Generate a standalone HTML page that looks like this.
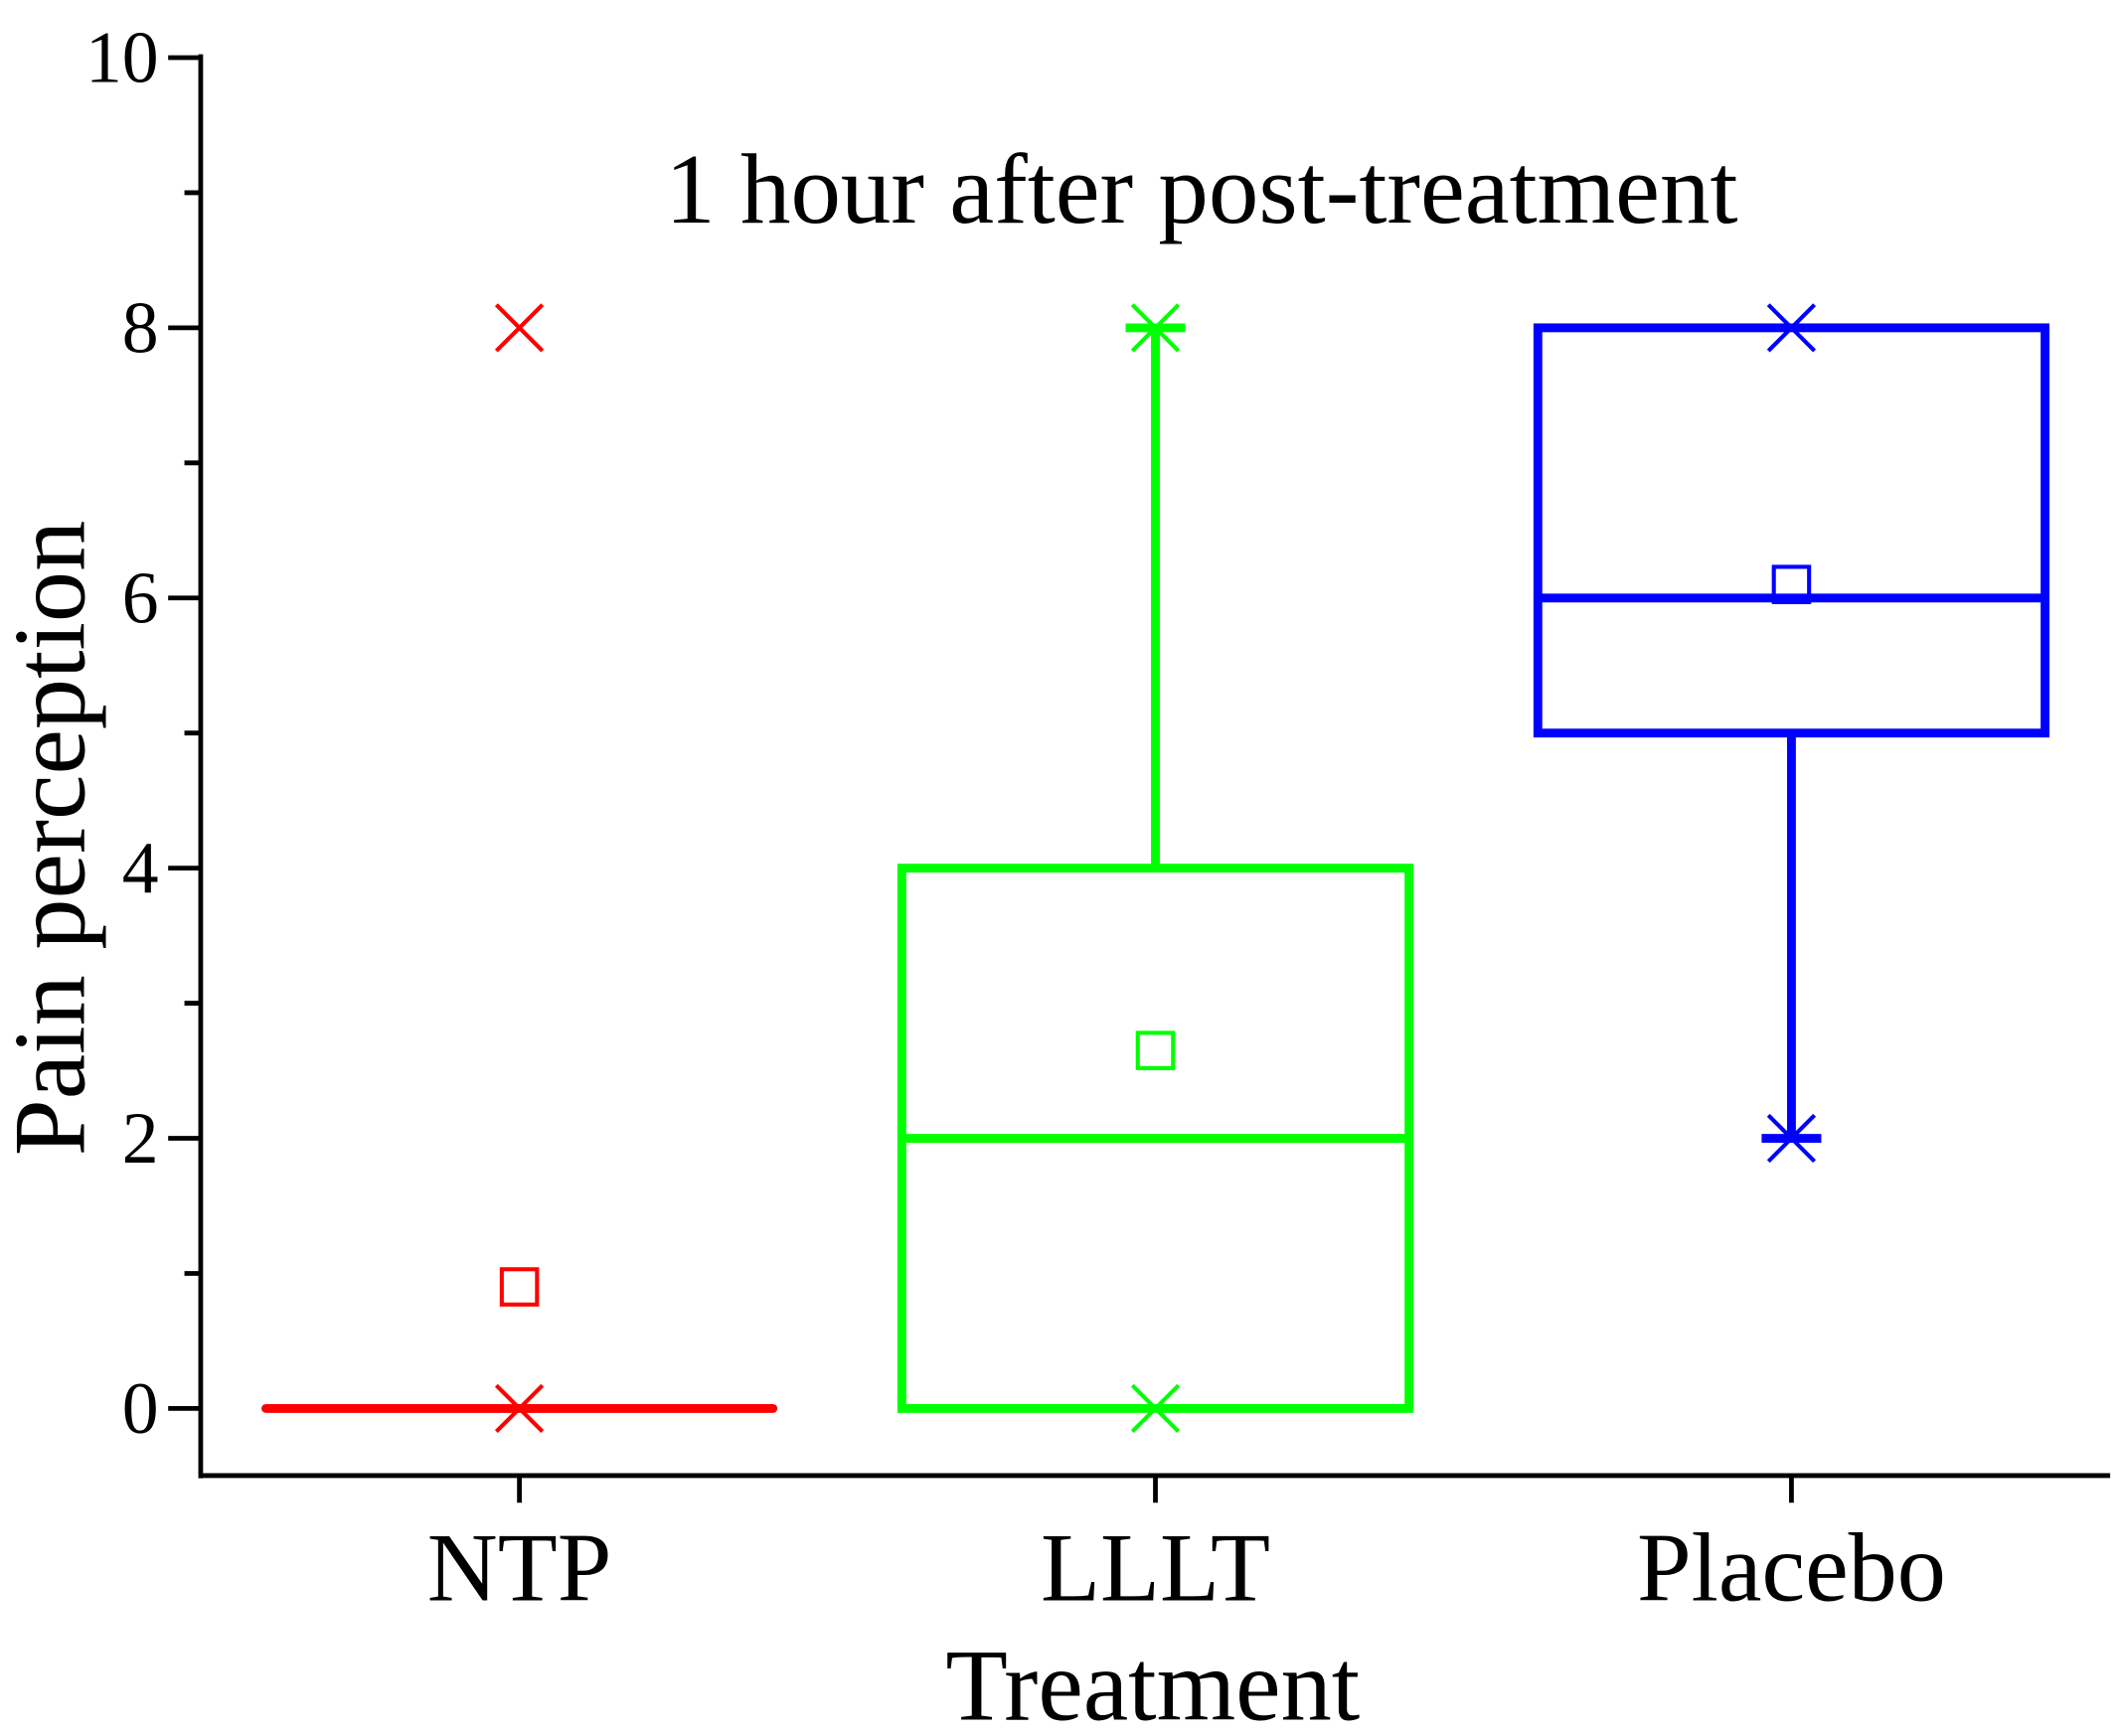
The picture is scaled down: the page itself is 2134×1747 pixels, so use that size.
<!DOCTYPE html>
<html><head><meta charset="utf-8"><style>
html,body{margin:0;padding:0;background:#fff;}
svg{display:block;}
text{font-family:"Liberation Serif",serif;fill:#000;}
</style></head><body>
<svg id="chart" width="2134" height="1747" viewBox="0 0 1564 1280" preserveAspectRatio="none" xmlns="http://www.w3.org/2000/svg">
<g id="axes"></g>
<g id="marks"></g>
<text x="886" y="164" font-size="74" text-anchor="middle">1 hour after post-treatment</text>
<text x="850" y="1268" font-size="75" text-anchor="middle">Treatment</text>
<text transform="translate(62,618) rotate(-90)" font-size="75" text-anchor="middle">Pain perception</text>
</svg>
<script>
const categories = ["NTP","LLLT","Placebo"];
const colors = ["#ff0000","#00ff00","#0000ff"];
const q1 = [0, 0, 5];
const medians = [0, 2, 6];
const q3 = [0, 4, 8];
const whiskLow = [0, 0, 2];
const whiskHigh = [0, 8, 5];
const means = [0.9, 2.65, 6.1];
const minVals = [0, 0, 2];
const maxVals = [8, 8, 8];
const yTicks = [0, 2, 4, 6, 8, 10];
const yMinor = [1, 3, 5, 7, 9];

const NS = "http://www.w3.org/2000/svg";
const y = v => 1038.5 - v * 99.6;
const x = i => 383 + i * 469;
const halfW = 187;
function mk(tag, attrs, parent){const e=document.createElementNS(NS,tag);for(const k in attrs)e.setAttribute(k,attrs[k]);parent.appendChild(e);return e;}
const axes=document.getElementById('axes'), marks=document.getElementById('marks');

let e;
e=mk('line',{x1:148,y1:40,x2:148,y2:1090},axes);
e.setAttribute('stroke','#000');e.setAttribute('stroke-width',3.5);


e=mk('line',{x1:146.5,y1:1088,x2:1556,y2:1088,stroke:'#000','stroke-width':3.5},axes);


yTicks.forEach(v=>{
  let t=mk('line',{x1:124,y1:y(v),x2:148,y2:y(v),stroke:'#000','stroke-width':3.5},axes);
  
  
  let l=mk('text',{x:117,y:y(v)+18,'font-size':54,'text-anchor':'end'},axes);
  l.textContent=v;
  
  
});
yMinor.forEach(v=>{
  let t=mk('line',{x1:136,y1:y(v),x2:148,y2:y(v),stroke:'#000','stroke-width':3.5},axes);
  
  
});
categories.forEach((c,i)=>{
  let t=mk('line',{x1:x(i),y1:1088,x2:x(i),y2:1108,stroke:'#000','stroke-width':3.5},axes);
  
  
  let l=mk('text',{x:x(i),y:1180,'font-size':72,'text-anchor':'middle'},axes);
  l.textContent=c;
  
  
});

categories.forEach((c,i)=>{
  const col=colors[i], cx=x(i);
  const g=mk('g',{},marks);
  
  
  if(q3[i]>q1[i]){
    mk('rect',{x:cx-halfW,y:y(q3[i]),width:2*halfW,height:y(q1[i])-y(q3[i]),fill:'none',stroke:col,'stroke-width':6.5},g);
  }
  mk('line',{x1:cx-halfW,y1:y(medians[i]),x2:cx+halfW,y2:y(medians[i]),stroke:col,'stroke-width':6.5,'stroke-linecap':'round'},g);
  if(whiskHigh[i]>q3[i]){
    mk('line',{x1:cx,y1:y(q3[i]),x2:cx,y2:y(whiskHigh[i]),stroke:col,'stroke-width':6.5},g);
    mk('line',{x1:cx-22,y1:y(whiskHigh[i]),x2:cx+22,y2:y(whiskHigh[i]),stroke:col,'stroke-width':6.5},g);
  }
  if(whiskLow[i]<q1[i]){
    mk('line',{x1:cx,y1:y(q1[i]),x2:cx,y2:y(whiskLow[i]),stroke:col,'stroke-width':6.5},g);
    mk('line',{x1:cx-22,y1:y(whiskLow[i]),x2:cx+22,y2:y(whiskLow[i]),stroke:col,'stroke-width':6.5},g);
  }
  let m=mk('rect',{x:cx-13,y:y(means[i])-13,width:26,height:26,fill:'none',stroke:col,'stroke-width':3},marks);
  
  
  [minVals[i],maxVals[i]].forEach(v=>{
    const s=17, yy=y(v);
    let p=mk('path',{d:`M${cx-s},${yy-s}L${cx+s},${yy+s}M${cx-s},${yy+s}L${cx+s},${yy-s}`,stroke:col,'stroke-width':3,fill:'none'},marks);
    
    
  });
});
</script>
</body></html>
